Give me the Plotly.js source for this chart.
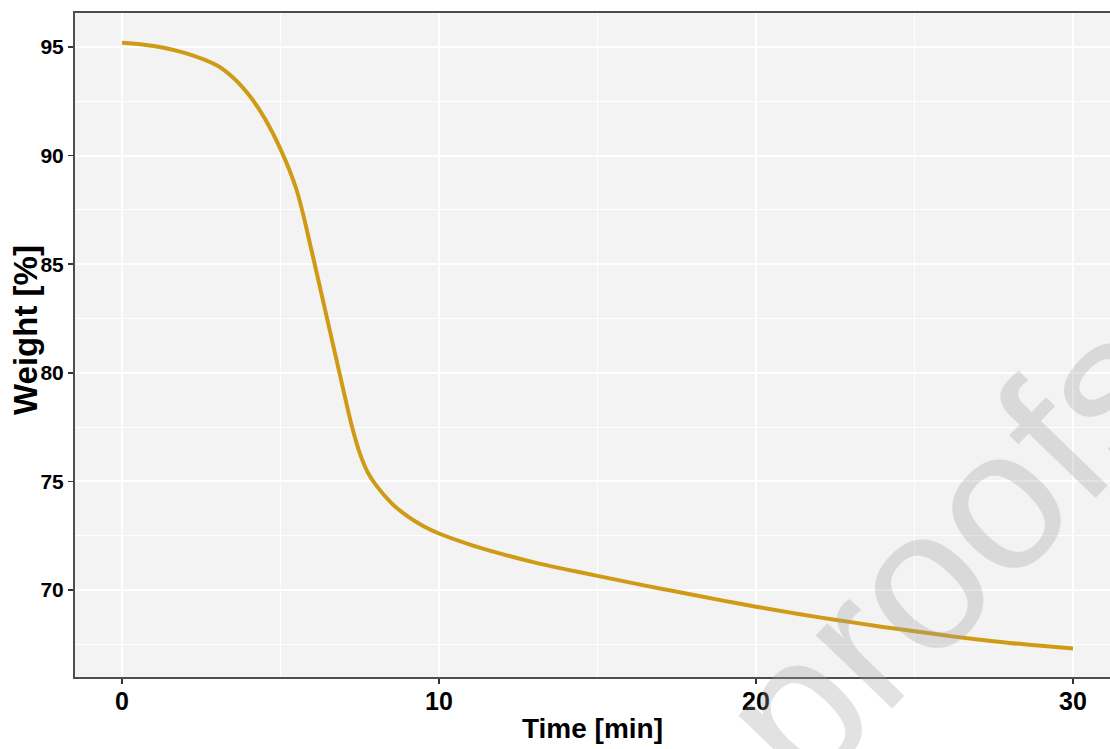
<!DOCTYPE html>
<html>
<head>
<meta charset="utf-8">
<script src="https://cdn.plot.ly/plotly-3.0.1.min.js"></script>
<style>html,body{margin:0;padding:0;background:#fff;}#chart{width:1110px;height:749px;}</style>
</head>
<body>
<div id="chart"></div>
<script>
// Time [min]
const timeMin = [0, 1, 2, 3, 3.5, 4, 4.5, 5, 5.5, 6, 6.5, 7, 7.25, 7.5, 7.75, 8, 8.5, 9, 9.5, 10, 11, 12, 13, 14, 15, 16, 17, 18, 19, 20, 21, 22, 23, 24, 25, 26, 27, 28, 29, 30];
// Weight [%]
const weightPct = [95.2, 95.05, 94.72, 94.15, 93.6, 92.8, 91.72, 90.3, 88.45, 85.5, 82.3, 79.1, 77.55, 76.3, 75.42, 74.85, 74.0, 73.4, 72.95, 72.6, 72.08, 71.65, 71.27, 70.95, 70.65, 70.35, 70.06, 69.78, 69.5, 69.23, 68.98, 68.74, 68.52, 68.3, 68.1, 67.9, 67.72, 67.56, 67.43, 67.31];
const xTicks = [0, 10, 20, 30];
const yTicks = [70, 75, 80, 85, 90, 95];

const trace = {
  x: timeMin, y: weightPct, type: 'scatter', mode: 'lines',
  line: {color: '#CF9B17', width: 4, shape: 'spline', smoothing: 1},
  hoverinfo: 'x+y', showlegend: false
};
function px(x){return (x-75)/1035;} function py(y){return (677-y)/664;}
const layout = {
  width: 1110, height: 749,
  margin: {l: 75, r: 0, t: 13, b: 72},
  paper_bgcolor: '#ffffff',
  plot_bgcolor: '#f3f3f3',
  font: {family: 'Liberation Sans, Arial, sans-serif', color: '#000'},
  xaxis: {
    range: [-1.483, 31.167],
    tickvals: xTicks, ticktext: xTicks.map(String),
    ticks: 'outside', ticklen: 5, tickwidth: 1.5, tickcolor: '#333',
    ticklabelstandoff: -4,
    tickfont: {size: 25, weight: 'bold', color: '#000'},
    showgrid: true, gridcolor: '#ffffff', gridwidth: 2,
    minor: {dtick: 5, tick0: 0, showgrid: true, gridcolor: '#ffffff', gridwidth: 1, ticks: ''},
    zeroline: false,
    showline: true, linecolor: '#4d4d4d', linewidth: 2, mirror: true,
    title: {text: 'Time [min]', font: {size: 28, weight: 'bold', color: '#000'}, standoff: 4}
  },
  yaxis: {
    range: [65.994, 96.565],
    tickvals: yTicks, ticktext: yTicks.map(String),
    ticks: 'outside', ticklen: 5, tickwidth: 1.5, tickcolor: '#333',
    tickfont: {size: 21, weight: 'bold', color: '#000'},
    showgrid: true, gridcolor: '#ffffff', gridwidth: 2,
    minor: {dtick: 2.5, tick0: 0, showgrid: true, gridcolor: '#ffffff', gridwidth: 1, ticks: ''},
    zeroline: false,
    showline: true, linecolor: '#4d4d4d', linewidth: 2, mirror: false
  },
  annotations: [{
    text: 'Weight [%]', xref: 'paper', yref: 'paper',
    x: px(25), y: py(330),
    xanchor: 'center', yanchor: 'middle', showarrow: false, textangle: -90,
    font: {family: 'Liberation Sans, Arial, sans-serif', size: 33, weight: 'bold', color: '#000'}
  }, {
    text: 'proofs', xref: 'paper', yref: 'paper',
    x: px(948), y: py(550),
    xanchor: 'center', yanchor: 'middle', showarrow: false,
    textangle: -46,
    font: {family: 'Liberation Sans, Arial, sans-serif', size: 200, color: 'rgba(160,160,160,0.3)'}
  }]
};

Plotly.newPlot('chart', [trace], layout, {displayModeBar: false, staticPlot: true});
</script>
</body>
</html>
